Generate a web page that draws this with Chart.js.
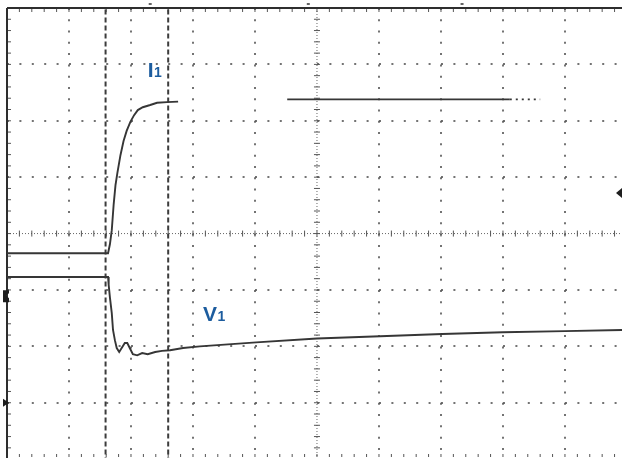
<!DOCTYPE html>
<html>
<head>
<meta charset="utf-8">
<script src="https://cdn.jsdelivr.net/npm/chart.js@4/dist/chart.umd.min.js"></script>
<style>
  html, body { margin: 0; padding: 0; background: #ffffff; overflow: hidden; }
  #wrap { width: 622px; height: 458px; position: relative; }
  canvas { display: block; }
</style>
</head>
<body>
<div id="wrap"><canvas id="c" width="622" height="458"></canvas></div>
<script>
// ---- Data (units: screen divisions, 0 = centre of the scope screen) ----
const xTicks = [-5, -4, -3, -2, -1, 0, 1, 2, 3, 4];
const yTicks = [-4, -3, -2, -1, 0, 1, 2, 3, 4];

// I1 trace (current), gap where the trace is not recorded
const i1Time  = [-5.00, -4.15, -3.37, -3.34, -3.31, -3.28, -3.25, -3.22, -3.17, -3.12, -3.07, -3.01, -2.95, -2.89, -2.81, -2.69, -2.58, -2.42, -2.24, -1.40, -0.48, 3.11];
const i1Level = [-0.35, -0.35, -0.35, -0.19, 0.06, 0.51, 0.86, 1.07, 1.39, 1.64, 1.82, 1.98, 2.10, 2.19, 2.24, 2.28, 2.32, 2.33, 2.34, null, 2.38, 2.38];
// faint dotted end of the I1 plateau
const i1TailTime  = [3.11, 3.60];
const i1TailLevel = [2.38, 2.38];

// V1 trace (voltage)
const v1Time  = [-5.00, -3.37, -3.36, -3.34, -3.31, -3.29, -3.26, -3.23, -3.19, -3.15, -3.10, -3.06, -3.02, -2.97, -2.90, -2.82, -2.73, -2.61, -2.50, -2.37, -2.16, -1.89, -0.98, 0.00, 1.02, 2.02, 3.00, 4.00, 4.92];
const v1Level = [-0.77, -0.77, -0.91, -1.13, -1.41, -1.71, -1.89, -2.03, -2.10, -2.03, -1.94, -1.94, -2.03, -2.14, -2.16, -2.12, -2.14, -2.10, -2.08, -2.07, -2.03, -2.00, -1.93, -1.86, -1.82, -1.78, -1.75, -1.73, -1.71];

// cursors
const cursorTimes = [-3.41, -2.40];

// trace labels
const labelNames = ['I', 'V'];
const labelSubs  = ['1', '1'];
const labelTime  = [-2.73, -1.84];
const labelLevel = [2.78, -1.55];

const zip = (xs, ys) => xs.map((v, i) => ({ x: v, y: ys[i] }));

const TRACE = '#363636';
const GRID = 'rgba(90,90,90,0.85)';
const BLUE = '#1c5c9e';

const datasets = [
  { label: 'I1', data: zip(i1Time, i1Level), borderColor: TRACE, borderWidth: 1.9, pointRadius: 0, spanGaps: false, tension: 0 },
  { label: 'I1 tail', data: zip(i1TailTime, i1TailLevel), borderColor: TRACE, borderWidth: 1.6, borderDash: [2, 4], pointRadius: 0, tension: 0 },
  { label: 'V1', data: zip(v1Time, v1Level), borderColor: TRACE, borderWidth: 1.9, pointRadius: 0, tension: 0 }
];
cursorTimes.forEach((t, i) => {
  datasets.push({ label: 'cursor' + i, data: zip([t, t], [-4.2, 4.2]), borderColor: '#3c3c3c', borderWidth: 2, borderDash: [5, 3], pointRadius: 0 });
});

function seg(ctx, x1, y1, x2, y2) { ctx.beginPath(); ctx.moveTo(x1, y1); ctx.lineTo(x2, y2); ctx.stroke(); }

const scopeDecor = {
  id: 'scopeDecor',
  beforeDatasetsDraw(chart) {
    const { ctx, chartArea: a, scales: { x, y } } = chart;
    ctx.save();
    const cx = x.getPixelForValue(0), cy = y.getPixelForValue(0);
    ctx.strokeStyle = '#666';
    ctx.lineWidth = 1;
    ctx.setLineDash([1, 2]);
    seg(ctx, cx, a.top, cx, a.bottom);
    seg(ctx, a.left, cy, a.right, cy);
    ctx.setLineDash([]);
    ctx.strokeStyle = '#555';
    for (let k = -25; k <= 25; k++) {
      const px = x.getPixelForValue(k / 5);
      if (px < a.left || px > a.right) continue;
      seg(ctx, px, cy - 3, px, cy + 3);
      seg(ctx, px, a.top, px, a.top + 4);
      seg(ctx, px, a.bottom - 1, px, a.bottom - 4);
    }
    for (let k = -20; k <= 20; k++) {
      const py = y.getPixelForValue(k / 5);
      if (py < a.top || py > a.bottom) continue;
      seg(ctx, cx - 3, py, cx + 3, py);
      seg(ctx, a.left, py, a.left + 4, py);
    }
    ctx.strokeStyle = '#2e2e2e';
    ctx.lineWidth = 2;
    seg(ctx, a.left, a.top, a.right, a.top);
    seg(ctx, a.left, a.top, a.left, a.bottom);
    ctx.restore();
  },
  afterDatasetsDraw(chart) {
    const { ctx, scales: { x, y } } = chart;
    ctx.save();
    // trace labels
    ctx.fillStyle = BLUE;
    ctx.textBaseline = 'alphabetic';
    labelNames.forEach((n, i) => {
      const px = x.getPixelForValue(labelTime[i]);
      const py = y.getPixelForValue(labelLevel[i]);
      ctx.font = 'bold 21px "Liberation Sans", Arial, sans-serif';
      ctx.fillText(n, px, py);
      const w = ctx.measureText(n).width;
      ctx.font = 'bold 14px "Liberation Sans", Arial, sans-serif';
      ctx.fillText(labelSubs[i], px + w + 0.5, py);
    });
    // screen markers
    ctx.fillStyle = '#1e1e1e';
    let py = y.getPixelForValue(-3);
    ctx.beginPath(); ctx.moveTo(3, py - 4); ctx.lineTo(9, py); ctx.lineTo(3, py + 4); ctx.closePath(); ctx.fill();
    py = y.getPixelForValue(-1.11);
    ctx.beginPath();
    ctx.moveTo(3, py - 6); ctx.lineTo(9, py - 6); ctx.lineTo(9, py - 3); ctx.lineTo(6, py - 1); ctx.lineTo(9, py + 2);
    ctx.lineTo(9, py + 6); ctx.lineTo(3, py + 6); ctx.closePath(); ctx.fill();
    py = y.getPixelForValue(0.72);
    ctx.beginPath(); ctx.moveTo(622, py - 5); ctx.lineTo(616, py); ctx.lineTo(622, py + 5); ctx.closePath(); ctx.fill();
    ctx.strokeStyle = '#333'; ctx.lineWidth = 1.5;
    [-2.69, -0.14, 2.34].forEach(t => {
      const px = x.getPixelForValue(t);
      seg(ctx, px - 1.5, 4, px + 1.5, 4);
    });
    ctx.restore();
  }
};

new Chart(document.getElementById('c'), {
  type: 'line',
  data: { datasets },
  options: {
    responsive: false,
    animation: false,
    devicePixelRatio: 1,
    parsing: false,
    layout: { padding: { left: 7, top: 8, right: 0, bottom: 0 } },
    plugins: { legend: { display: false }, tooltip: { enabled: false } },
    scales: {
      x: {
        type: 'linear', min: -5, max: 4.92,
        ticks: { display: false, padding: 0 },
        afterBuildTicks: s => { s.ticks = xTicks.map(v => ({ value: v })); },
        grid: { drawTicks: false, tickLength: 0, lineWidth: 2,
          color: c => (c.tick && (c.tick.value === 0 || c.tick.value === -5)) ? 'rgba(0,0,0,0)' : GRID },
        border: { display: false, dash: [2, 9.28] }
      },
      y: {
        type: 'linear', min: -3.98, max: 4,
        ticks: { display: false, padding: 0 },
        afterBuildTicks: s => { s.ticks = yTicks.map(v => ({ value: v })); },
        grid: { drawTicks: false, tickLength: 0, lineWidth: 2,
          color: c => (c.tick && (c.tick.value === 0 || c.tick.value === 4)) ? 'rgba(0,0,0,0)' : GRID },
        border: { display: false, dash: [2, 10.4] }
      }
    }
  },
  plugins: [scopeDecor]
});
</script>
</body>
</html>
